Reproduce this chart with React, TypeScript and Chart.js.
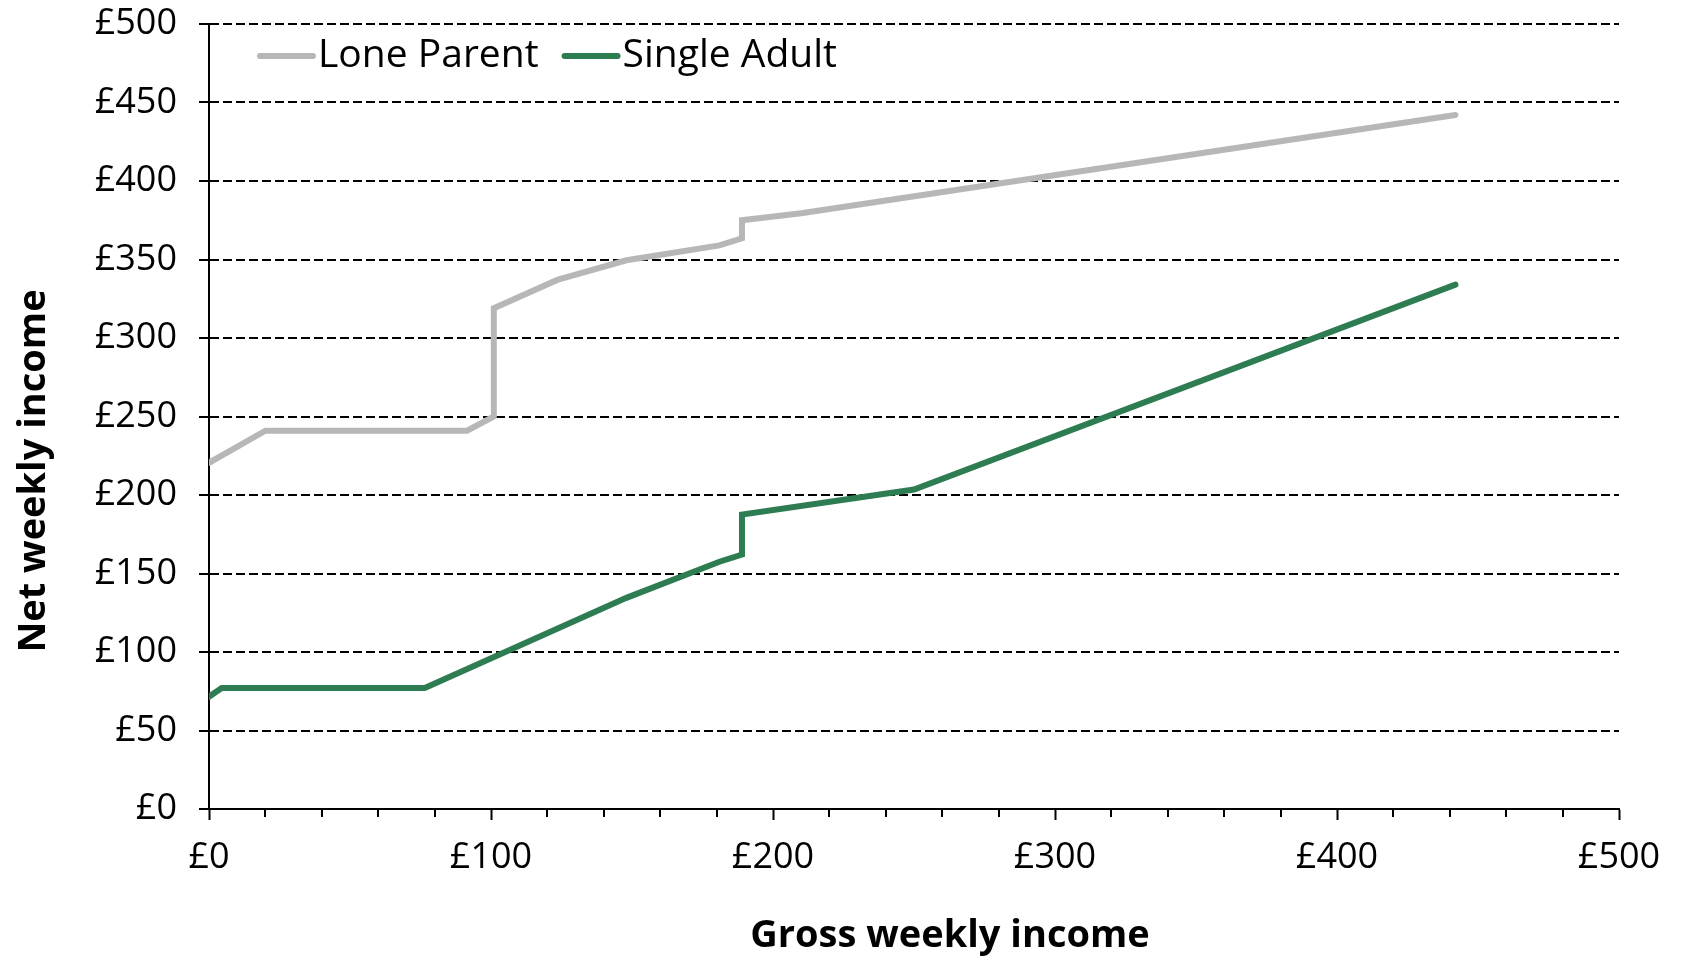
import { useEffect, useRef } from 'react';
import { Chart, registerables } from 'chart.js';

Chart.register(...registerables);

// Gross vs net weekly income, by household type
const seriesLabels = ['Lone Parent', 'Single Adult'];
const seriesColors = ['#b7b7b7', '#2e7d52'];

const loneParentGross = [0, 20, 91.5, 101, 101, 123.5, 148, 181, 189, 189, 210, 442];
const loneParentNet = [220.5, 241, 241, 250, 319, 337, 349.5, 359, 363.5, 375, 379.5, 442];

const singleAdultGross = [0, 4.5, 76.5, 148, 181, 189, 189, 250, 442];
const singleAdultNet = [71.5, 77, 77, 134.5, 157.5, 162, 187.5, 203.5, 334];

const xAxisTitle = 'Gross weekly income';
const yAxisTitle = 'Net weekly income';
const currencyPrefix = '£';

const FONT = "'Open Sans', 'Noto Sans', sans-serif";

const toPoints = (xs: number[], ys: number[]) => xs.map((x, i) => ({ x, y: ys[i] }));

// Draws minor x ticks, the in-plot legend and the axis titles
const decorations = {
  id: 'decorations',
  afterDraw(chart: any) {
    const { ctx, chartArea, scales } = chart;
    const xs = scales.x;
    ctx.save();

    ctx.strokeStyle = '#000';
    ctx.lineWidth = 2;
    for (let v = 20; v < 500; v += 20) {
      if (v % 100 === 0) continue;
      const px = Math.round(xs.getPixelForValue(v));
      ctx.beginPath();
      ctx.moveTo(px, chartArea.bottom);
      ctx.lineTo(px, chartArea.bottom + 8);
      ctx.stroke();
    }

    // legend
    ctx.font = `39px ${FONT}`;
    ctx.textBaseline = 'middle';
    ctx.textAlign = 'left';
    let lx = chartArea.left + 51;
    const ly = 56;
    chart.data.datasets.forEach((ds: any) => {
      ctx.strokeStyle = ds.borderColor;
      ctx.lineWidth = 6;
      ctx.lineCap = 'round';
      ctx.beginPath();
      ctx.moveTo(lx, ly);
      ctx.lineTo(lx + 53, ly);
      ctx.stroke();
      ctx.fillStyle = '#000';
      ctx.fillText(ds.label, lx + 58, ly);
      lx += 58 + ctx.measureText(ds.label).width + 26;
    });

    // axis titles
    ctx.fillStyle = '#000';
    ctx.font = `bold 38px ${FONT}`;
    ctx.textAlign = 'center';
    ctx.textBaseline = 'middle';
    ctx.fillText(xAxisTitle, 950, 936);
    ctx.translate(34, 471);
    ctx.rotate(-Math.PI / 2);
    ctx.fillText(yAxisTitle, 0, 0);
    ctx.restore();
  },
};

export default function App() {
  const canvasRef = useRef<HTMLCanvasElement>(null);

  useEffect(() => {
    if (!canvasRef.current) return;
    const chart = new Chart(canvasRef.current, {
      type: 'line',
      data: {
        datasets: [
          {
            label: seriesLabels[0],
            data: toPoints(loneParentGross, loneParentNet),
            borderColor: seriesColors[0],
            backgroundColor: seriesColors[0],
            borderWidth: 6,
            borderCapStyle: 'round',
            pointRadius: 0,
            tension: 0,
          },
          {
            label: seriesLabels[1],
            data: toPoints(singleAdultGross, singleAdultNet),
            borderColor: seriesColors[1],
            backgroundColor: seriesColors[1],
            borderWidth: 6,
            borderCapStyle: 'round',
            pointRadius: 0,
            tension: 0,
          },
        ],
      },
      options: {
        responsive: false,
        animation: false,
        layout: { padding: { top: 24, right: 62, left: 0, bottom: 0 } },
        plugins: {
          legend: { display: false },
          tooltip: { enabled: false },
        },
        scales: {
          x: {
            type: 'linear',
            min: 0,
            max: 500,
            afterFit: (scale: any) => {
              scale.height = 148;
            },
            ticks: {
              stepSize: 100,
              padding: 16,
              color: '#000',
              font: { family: FONT, size: 36 },
              callback: (v: any) => currencyPrefix + v,
            },
            grid: {
              drawOnChartArea: false,
              drawTicks: true,
              tickLength: 11,
              tickWidth: 2,
              tickColor: '#000',
            },
            border: { display: true, color: '#000', width: 2 },
          },
          y: {
            type: 'linear',
            min: 0,
            max: 500,
            afterFit: (scale: any) => {
              scale.width = 209;
              scale.paddingTop = 0;
              scale.paddingBottom = 0;
            },
            ticks: {
              stepSize: 50,
              padding: 22,
              color: '#000',
              font: { family: FONT, size: 36 },
              callback: (v: any) => currencyPrefix + v,
            },
            grid: {
              color: '#000',
              lineWidth: 2,
              drawTicks: true,
              tickLength: 10,
              tickWidth: 2,
              tickColor: '#000',
            },
            border: { display: true, color: '#000', width: 2, dash: [9, 4] },
          },
        },
      },
      plugins: [decorations],
    });
    return () => chart.destroy();
  }, []);

  return (
    <div style={{ position: 'absolute', left: 0, top: 0, width: 1681, height: 957, background: '#fff' }}>
      <canvas ref={canvasRef} width={1681} height={957} style={{ display: 'block' }} />
    </div>
  );
}
